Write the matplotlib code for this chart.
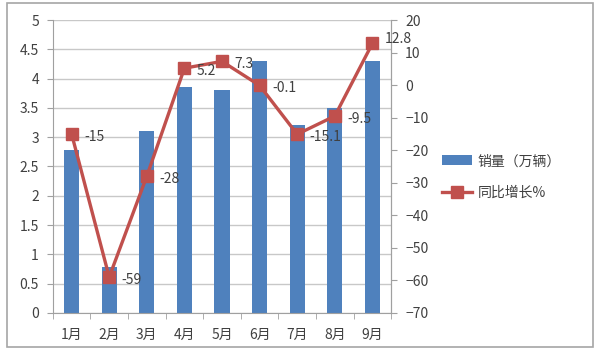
import matplotlib.pyplot as plt
from matplotlib.patches import Rectangle

plt.rcParams['font.family'] = ['Noto Sans CJK SC', 'DejaVu Sans']

# 数据
months = ["1月", "2月", "3月", "4月", "5月", "6月", "7月", "8月", "9月"]
sales = [2.78, 0.78, 3.1, 3.85, 3.8, 4.3, 3.2, 3.5, 4.3]
growth = [-15, -59, -28, 5.2, 7.3, -0.1, -15.1, -9.5, 12.8]
growth_labels = ["-15", "-59", "-28", "5.2", "7.3", "-0.1", "-15.1", "-9.5", "12.8"]

bar_color = "#4F81BD"
line_color = "#C0504D"
text_color = "#404040"

fig = plt.figure(figsize=(6, 3.58), dpi=100)
# 外框
fig.patches.append(Rectangle((0.012, 0.031), 0.976, 0.961, transform=fig.transFigure,
                             fill=False, edgecolor="#A6A6A6", linewidth=1.2))

ax = fig.add_axes([0.088, 0.126, 0.564, 0.818])
x = range(len(months))
bars = ax.bar(x, sales, width=0.4, color=bar_color, zorder=2, label="销量（万辆）")
ax.set_ylim(0, 5)
ax.set_yticks([0, 0.5, 1, 1.5, 2, 2.5, 3, 3.5, 4, 4.5, 5])
ax.set_yticklabels(["0", "0.5", "1", "1.5", "2", "2.5", "3", "3.5", "4", "4.5", "5"])
ax.set_xlim(-0.5, len(months) - 0.5)
ax.set_xticks(x)
ax.set_xticklabels(months)
ax.set_xticks([i - 0.5 for i in range(len(months) + 1)], minor=True)
ax.tick_params(axis='x', which='major', length=0, pad=11)
ax.tick_params(axis='x', which='minor', length=4, color="#A0A0A0")
ax.tick_params(axis='y', length=4, color="#A0A0A0", pad=6)
ax.tick_params(labelsize=10, labelcolor=text_color)
ax.grid(axis='y', color="#C8C8C8", linewidth=1, zorder=0)
ax.spines["top"].set_visible(False)
for s in ["left", "bottom", "right"]:
    ax.spines[s].set_color("#A0A0A0")

ax2 = ax.twinx()
line, = ax2.plot(x, growth, color=line_color, linewidth=2.4, marker="s", markersize=8,
                 label="同比增长%", zorder=3)
ax2.set_ylim(-70, 20)
ax2.set_yticks(range(-70, 21, 10))
ax2.tick_params(axis='y', length=4, color="#A0A0A0", labelsize=10, labelcolor=text_color, pad=6)
ax2.spines["top"].set_visible(False)
ax2.spines["right"].set_color("#A0A0A0")
ax2.spines["left"].set_visible(False)
ax2.spines["bottom"].set_visible(False)

for xi, yi, lab in zip(x, growth, growth_labels):
    dy = 3 if lab == "12.8" else -2
    ax2.annotate(lab, (xi, yi), xytext=(9, dy), textcoords="offset points",
                 ha="left", va="center", fontsize=10, color=text_color, zorder=4)

fig.legend([bars, line], ["销量（万辆）", "同比增长%"], loc="center left",
           bbox_to_anchor=(0.715, 0.505), frameon=False, fontsize=10,
           handlelength=2.2, labelspacing=1.3, handletextpad=0.4,
           labelcolor=text_color)

fig.savefig("out.png", dpi=100)
